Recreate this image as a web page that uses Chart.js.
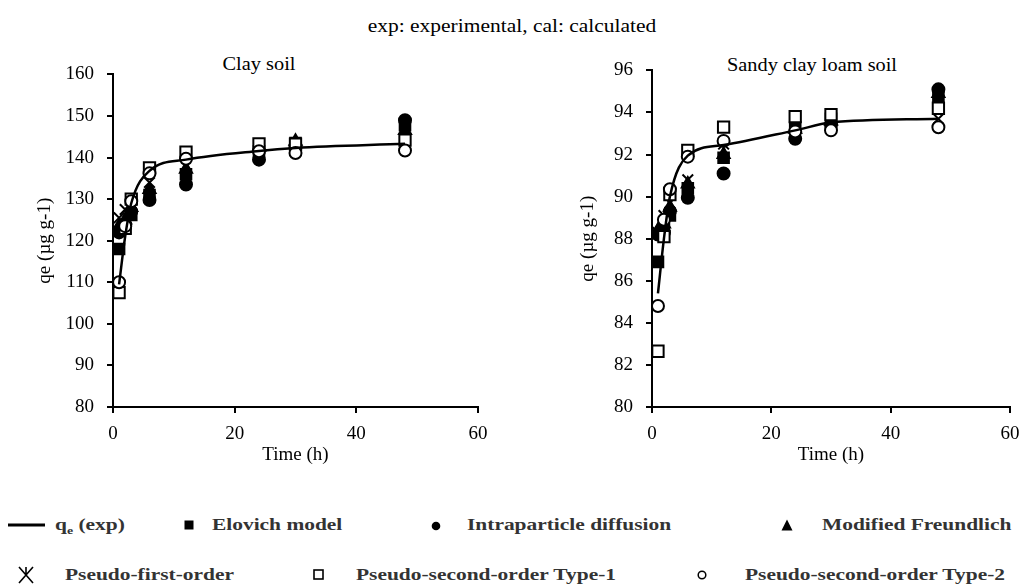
<!DOCTYPE html>
<html>
<head>
<meta charset="utf-8">
<script src="https://cdn.jsdelivr.net/npm/chart.js@4.4.1/dist/chart.umd.min.js"></script>
<style>
  body { margin: 0; background: #fff; font-family: 'Liberation Serif', 'Times New Roman', serif; }
  #page { position: relative; width: 1024px; height: 588px; overflow: hidden; }
  .box { position: absolute; }
  .txt { position: absolute; white-space: nowrap; color: #000; }
  .leg { position: absolute; white-space: nowrap; font-size: 17px; font-weight: bold; color: #333;
         transform: scaleX(1.26); transform-origin: left center; line-height: 20px; }
  .mk { position: absolute; }
</style>
</head>
<body>
<div id="page">
  <div class="txt" style="left:512px; top:15px; font-size:19px; transform:translateX(-50%) scaleX(1.13);">exp: experimental, cal: calculated</div>
  <div class="txt" style="left:259px; top:54px; font-size:18px; transform:translateX(-50%) scaleX(1.13);">Clay soil</div>
  <div class="txt" style="left:812px; top:55px; font-size:18px; transform:translateX(-50%) scaleX(1.13);">Sandy clay loam soil</div>

  <div class="box" style="left:20px; top:50px; width:470px; height:420px;"><canvas id="clayChart"></canvas></div>
  <div class="box" style="left:569px; top:46px; width:453px; height:424px;"><canvas id="sandyChart"></canvas></div>

  <!-- legend row 1 -->
  <svg class="mk" style="left:8px; top:520px;" width="38" height="10"><line x1="0" y1="5" x2="37" y2="5" stroke="#000" stroke-width="3"/></svg>
  <div class="leg" style="left:55px; top:515px;">q<sub style="font-size:11px;">e</sub> (exp)</div>
  <svg class="mk" style="left:184px; top:520px;" width="10" height="10"><rect x="0.5" y="0.5" width="9" height="9" fill="#000"/></svg>
  <div class="leg" style="left:212px; top:515px;">Elovich model</div>
  <svg class="mk" style="left:431px; top:521px;" width="10" height="10"><circle cx="5" cy="5" r="4.3" fill="#000"/></svg>
  <div class="leg" style="left:467px; top:515px;">Intraparticle diffusion</div>
  <svg class="mk" style="left:781px; top:519px;" width="12" height="12"><polygon points="6,0.5 11.5,11.5 0.5,11.5" fill="#000"/></svg>
  <div class="leg" style="left:822px; top:515px;">Modified Freundlich</div>

  <!-- legend row 2 -->
  <svg class="mk" style="left:18px; top:566px;" width="16" height="18"><path d="M1,1 L15,17 M15,1 L1,17 M8,1 L8,9" stroke="#000" stroke-width="1.6" fill="none"/></svg>
  <div class="leg" style="left:65px; top:565px;">Pseudo-first-order</div>
  <svg class="mk" style="left:313px; top:569px;" width="11" height="11"><rect x="1" y="1" width="9" height="9" fill="#fff" stroke="#000" stroke-width="1.6"/></svg>
  <div class="leg" style="left:356px; top:565px;">Pseudo-second-order Type-1</div>
  <svg class="mk" style="left:697px; top:570px;" width="10" height="10"><circle cx="5" cy="5" r="3.8" fill="#fff" stroke="#000" stroke-width="1.5"/></svg>
  <div class="leg" style="left:745px; top:565px;">Pseudo-second-order Type-2</div>
</div>

<script>
// sampling times (h)
const times = [1, 2, 3, 6, 12, 24, 30, 48];

// Clay soil
const clayExp = [109.5, 121, 129, 136.8, 139.5, 141.6, 142.3, 143.3];
const clayElovich = [118, 123, 126.2, 131, 136, 141.5, 143.5, 147.8];
const clayIntra = [122, 123.5, 127, 129.8, 133.5, 139.5, 142.5, 149];
const clayFreundlich = [123.5, 125, 128, 132.3, 137.2, 142.4, 143.9, 146.5];
const clayPFO = [125.5, 127.5, 129, 134, 138, 141.5, 142.3, 143.5];
const clayPSO1 = [107.5, 123, 130, 137.5, 141.3, 143.3, 143.2, 144.2];
const clayPSO2 = [110, 123.5, 129.5, 136.2, 139.7, 141.5, 141.1, 141.7];

// Sandy clay loam soil
const sandyExp = [85.4, 88.0, 90.0, 91.95, 92.45, 93.15, 93.52, 93.7];
const sandyElovich = [86.9, 88.5, 89.1, 90.4, 91.85, 93.3, 93.7, 94.7];
const sandyIntra = [88.2, 88.3, 89.3, 89.95, 91.1, 92.75, 93.4, 95.1];
const sandyFreundlich = [88.4, 88.7, 89.5, 90.6, 92.0, 93.2, 93.6, 94.9];
const sandyPFO = [88.3, 89.1, 89.7, 90.8, 92.5, 93.15, 93.5, 93.7];
const sandyPSO1 = [82.65, 88.1, 90.1, 92.2, 93.3, 93.8, 93.9, 94.2];
const sandyPSO2 = [84.8, 88.9, 90.35, 91.9, 92.65, 93.1, 93.15, 93.3];

const xTicks = [0, 20, 40, 60];

Chart.defaults.font.family = "'Liberation Serif', 'Times New Roman', serif";
Chart.defaults.color = '#000';

function pts(arr) {
  return arr.map((v, i) => ({ x: times[i], y: v }));
}

function markerSet(label, arr, style, fill, radius, order) {
  return {
    label: label,
    data: pts(arr),
    showLine: false,
    pointStyle: style,
    pointRadius: radius,
    pointBackgroundColor: fill,
    pointBorderColor: '#000',
    pointBorderWidth: 2,
    order: order
  };
}

function makeChart(id, s, o) {
  const ctx = document.getElementById(id).getContext('2d');
  return new Chart(ctx, {
    type: 'scatter',
    data: {
      datasets: [
        {
          label: 'qe (exp)',
          data: pts(s.exp),
          showLine: true,
          borderColor: '#000',
          borderWidth: 2.5,
          pointRadius: 0,
          cubicInterpolationMode: 'monotone',
          order: 0
        },
        markerSet('Elovich model', s.elovich, 'rect', '#000', 7.5, 6),
        markerSet('Intraparticle diffusion', s.intra, 'circle', '#000', 6, 5),
        markerSet('Modified Freundlich', s.freundlich, 'triangle', '#000', 7, 4),
        markerSet('Pseudo-first-order', s.pfo, 'crossRot', '#000', 7.5, 3),
        markerSet('Pseudo-second-order Type-1', s.pso1, 'rect', '#fff', 8, 2),
        markerSet('Pseudo-second-order Type-2', s.pso2, 'circle', '#fff', 6, 1)
      ]
    },
    options: {
      responsive: true,
      maintainAspectRatio: false,
      animation: false,
      layout: { padding: { top: o.padTop, right: 12, left: 0, bottom: 0 } },
      plugins: { legend: { display: false }, tooltip: { enabled: false } },
      scales: {
        x: {
          type: 'linear',
          min: 0, max: 60,
          afterBuildTicks: (axis) => { axis.ticks = xTicks.map(v => ({ value: v })); },
          afterFit: (axis) => { axis.height = 63; axis.paddingLeft = 0; axis.paddingRight = 0; },
          border: { display: true, color: '#000', width: 2 },
          grid: { drawOnChartArea: false, drawTicks: true, tickLength: 6, color: '#000', lineWidth: 2 },
          ticks: { padding: 10, font: { size: 19 }, color: '#000' },
          title: { display: true, text: 'Time (h)', font: { size: 19 }, padding: { top: o.xTitlePad }, color: '#000' }
        },
        y: {
          min: o.yMin, max: o.yMax,
          afterFit: (axis) => { axis.width = o.yWidth; },
          border: { display: true, color: '#000', width: 2 },
          grid: { drawOnChartArea: false, drawTicks: true, tickLength: 6, color: '#000', lineWidth: 2 },
          ticks: { stepSize: o.yStep, padding: 13, font: { size: 19 }, color: '#000' },
          title: { display: true, text: 'qe (µg g-1)', font: { size: 19 }, padding: { top: o.yTitlePad }, color: '#000' }
        }
      }
    }
  });
}

makeChart('clayChart', {
  exp: clayExp, elovich: clayElovich, intra: clayIntra, freundlich: clayFreundlich,
  pfo: clayPFO, pso1: clayPSO1, pso2: clayPSO2
}, { yMin: 80, yMax: 160, yStep: 10, yWidth: 93, yTitlePad: 14, xTitlePad: 2, padTop: 22 });

makeChart('sandyChart', {
  exp: sandyExp, elovich: sandyElovich, intra: sandyIntra, freundlich: sandyFreundlich,
  pfo: sandyPFO, pso1: sandyPSO1, pso2: sandyPSO2
}, { yMin: 80, yMax: 96, yStep: 2, yWidth: 83, yTitlePad: 8, xTitlePad: 9, padTop: 22 });
</script>
</body>
</html>
